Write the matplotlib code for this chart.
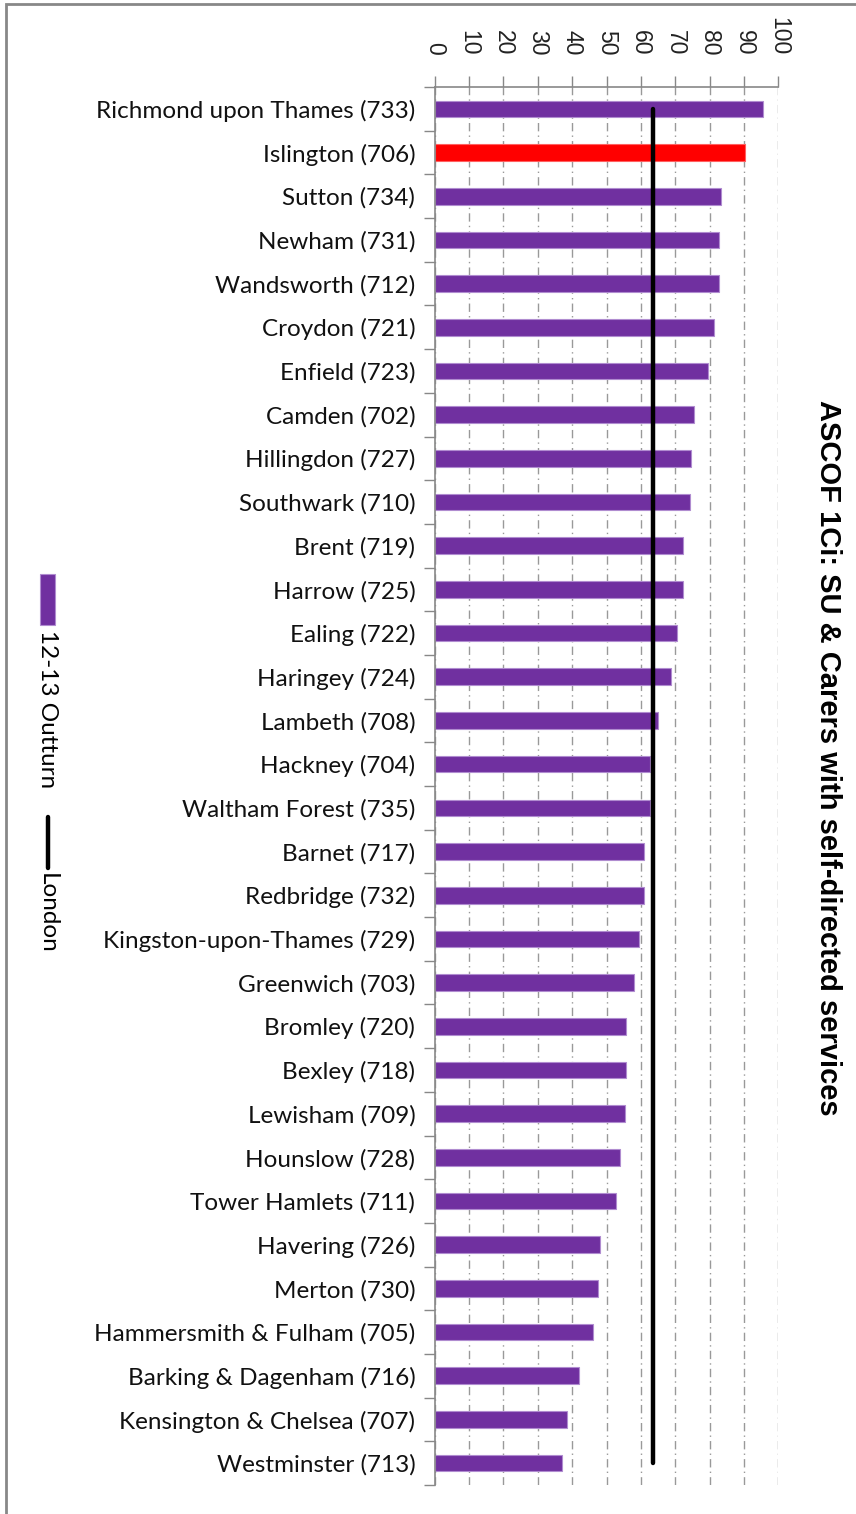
import matplotlib.pyplot as plt
from matplotlib.patches import Rectangle
from matplotlib.lines import Line2D

# boroughs, ordered as in the chart (top to bottom)
boroughs = [
    "Richmond upon Thames (733)", "Islington (706)", "Sutton (734)", "Newham (731)",
    "Wandsworth (712)", "Croydon (721)", "Enfield (723)", "Camden (702)",
    "Hillingdon (727)", "Southwark (710)", "Brent (719)", "Harrow (725)",
    "Ealing (722)", "Haringey (724)", "Lambeth (708)", "Hackney (704)",
    "Waltham Forest (735)", "Barnet (717)", "Redbridge (732)", "Kingston-upon-Thames (729)",
    "Greenwich (703)", "Bromley (720)", "Bexley (718)", "Lewisham (709)",
    "Hounslow (728)", "Tower Hamlets (711)", "Havering (726)", "Merton (730)",
    "Hammersmith & Fulham (705)", "Barking & Dagenham (716)", "Kensington & Chelsea (707)",
    "Westminster (713)",
]
outturn = [
    95.6, 90.3, 83.3, 82.8, 82.8, 81.4, 79.6, 75.4,
    74.7, 74.3, 72.3, 72.3, 70.6, 68.7, 64.9, 62.8,
    62.8, 60.9, 60.9, 59.4, 57.9, 55.7, 55.7, 55.3,
    53.8, 52.7, 48.2, 47.4, 46.0, 41.9, 38.5, 37.0,
]
london_avg = 63.5
highlight = "Islington (706)"
x_ticks = [0, 10, 20, 30, 40, 50, 60, 70, 80, 90, 100]

PURPLE = "#7030A0"
W, H = 856, 1514

fig = plt.figure(figsize=(W / 100, H / 100), dpi=100)
ax = fig.add_axes([434.7 / W, 1 - 1485 / H, 343.6 / W, (1485 - 87) / H])

ypos = list(range(len(boroughs)))
colors = ["#FF0000" if b == highlight else PURPLE for b in boroughs]
edges = ["#FF6060" if b == highlight else "#B08CD0" for b in boroughs]
ax.barh(ypos, outturn, height=0.38, color=colors, edgecolor=edges, linewidth=0.8, zorder=2)
ax.plot([london_avg, london_avg], [ypos[0], ypos[-1]], color="black", lw=3.2,
        solid_capstyle="round", zorder=3)

ax.set_xlim(0, 100)
ax.set_ylim(len(boroughs) - 0.5, -0.5)

# value axis on top, labels rotated
ax.xaxis.tick_top()
ax.set_xticks(x_ticks)
ax.set_xticklabels([str(t) for t in x_ticks], rotation=-90, fontsize=16.5,
                   family=["Liberation Sans"], color="#222222")
ax.tick_params(axis="x", length=8, width=1, color="#888888", pad=15, direction="out")
ax.xaxis.grid(True, color="#999999", linestyle=(0, (6, 3, 1, 3)), linewidth=1, zorder=0)

# category axis
ax.set_yticks(ypos)
ax.set_yticklabels(boroughs, fontsize=17.5, family=["Lato"], color="#111111")
ax.set_yticks([i - 0.5 for i in range(len(boroughs) + 1)], minor=True)
ax.tick_params(axis="y", which="major", length=0, pad=14)
ax.tick_params(axis="y", which="minor", length=8, width=1, color="#888888")

for s in ("right", "bottom"):
    ax.spines[s].set_visible(False)
for s in ("left", "top"):
    ax.spines[s].set_color("#888888")
    ax.spines[s].set_linewidth(1.2)

# title, rotated
fig.text(828 / W, 1 - 758 / H, "ASCOF 1Ci: SU & Carers with self-directed services",
         rotation=-90, ha="center", va="center", fontsize=21, fontweight="bold",
         family=["Liberation Sans"])

# legend, rotated
fig.patches.append(Rectangle((40 / W, 1 - 625 / H), 15 / W, 51 / H,
                             transform=fig.transFigure, facecolor=PURPLE,
                             edgecolor="#B08CD0", lw=0.8))
fig.text(47.5 / W, 1 - 630 / H, "12-13 Outturn", rotation=-90, ha="center", va="top",
         fontsize=17.5, family=["Lato"])
fig.lines.append(Line2D([47.5 / W, 47.5 / W], [1 - 817 / H, 1 - 868 / H],
                        transform=fig.transFigure, color="black", lw=3.2,
                        solid_capstyle="round"))
fig.text(47.5 / W, 1 - 873 / H, "London", rotation=-90, ha="center", va="top",
         fontsize=17.5, family=["Lato"])

# outer frame (right and bottom edges fall outside the picture)
fig.patches.append(Rectangle((6 / W, -10 / H), (W + 10) / W, (H + 6) / H,
                             transform=fig.transFigure, fill=False,
                             edgecolor="#888888", lw=2))

fig.savefig("out.png", dpi=100)
